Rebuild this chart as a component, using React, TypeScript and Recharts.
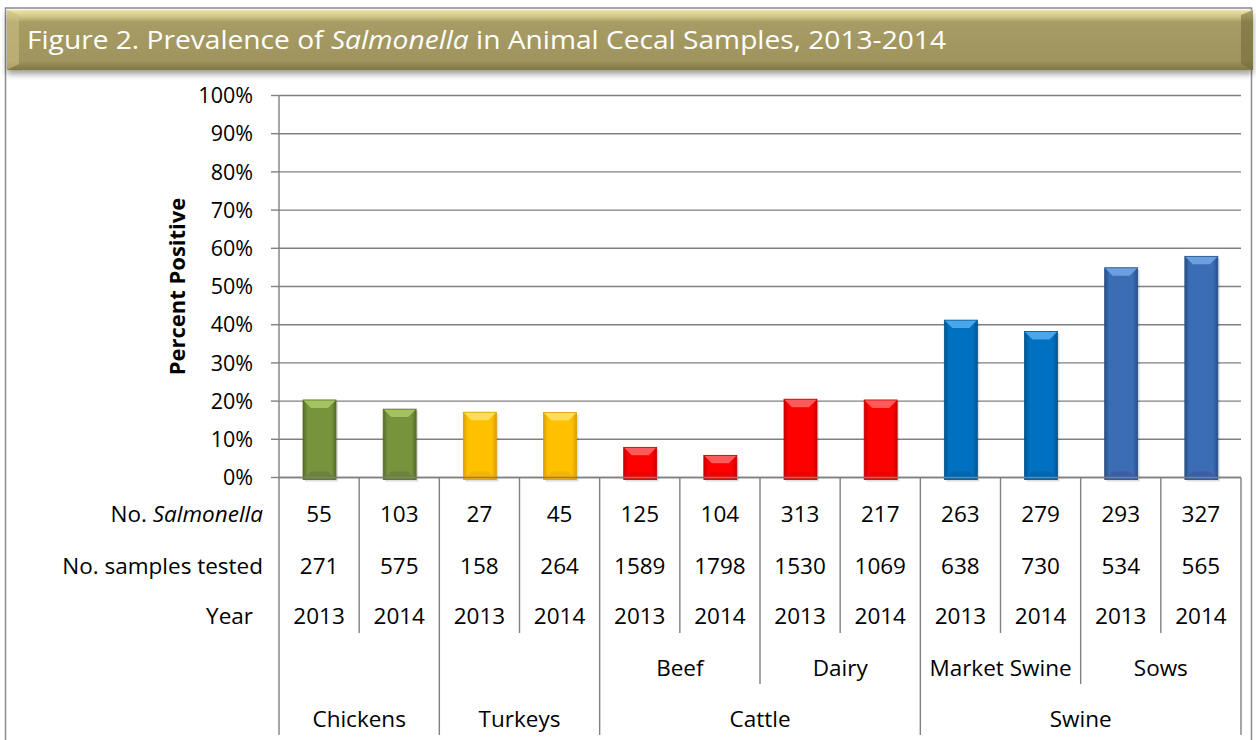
import React from 'react';
import { BarChart, Bar, XAxis, YAxis, CartesianGrid } from 'recharts';

const years = ['2013', '2014', '2013', '2014', '2013', '2014', '2013', '2014', '2013', '2014', '2013', '2014'];
const groups = ['Chickens', 'Chickens', 'Turkeys', 'Turkeys', 'Cattle', 'Cattle', 'Cattle', 'Cattle', 'Swine', 'Swine', 'Swine', 'Swine'];
const subgroups = ['', '', '', '', 'Beef', 'Beef', 'Dairy', 'Dairy', 'Market Swine', 'Market Swine', 'Sows', 'Sows'];
const salmonellaCounts = [55, 103, 27, 45, 125, 104, 313, 217, 263, 279, 293, 327];
const samplesTested = [271, 575, 158, 264, 1589, 1798, 1530, 1069, 638, 730, 534, 565];
const percentPositive = [20.3, 17.9, 17.1, 17.0, 7.9, 5.8, 20.5, 20.3, 41.2, 38.2, 54.9, 57.9];
const yTicks = [0, 10, 20, 30, 40, 50, 60, 70, 80, 90, 100];

const data = years.map((year, i) => ({ key: `c${i}`, year, percent: percentPositive[i] }));

const FONT = '"Open Sans", "Noto Sans", sans-serif';
const GRID = '#808080';
const PLOT_W = 962;
const HALF = PLOT_W / years.length / 2;

const BAR_COLORS: Record<string, { base: string; light: string; dark: string }> = {
  Chickens: { base: '#77933C', light: '#A3C362', dark: '#566D27' },
  Turkeys: { base: '#FFC000', light: '#FFDD5C', dark: '#D9A100' },
  Beef: { base: '#FF0000', light: '#FF5A5A', dark: '#C80000' },
  Dairy: { base: '#FF0000', light: '#FF5A5A', dark: '#C80000' },
  'Market Swine': { base: '#0070C0', light: '#4AA6EA', dark: '#00548F' },
  Sows: { base: '#3A6DB3', light: '#6B9FE0', dark: '#284F86' },
};

function colorFor(i: number) {
  return BAR_COLORS[subgroups[i] || groups[i]];
}

function BevelBar(props: any) {
  const { x, y, width, height, index } = props;
  if (!height || height <= 0) return null;
  const c = colorFor(index);
  const h = height + 2;
  const b = Math.min(8, h / 3);
  const id = `bar-grad-${index}`;
  return (
    <g>
      <defs>
        <linearGradient id={id} x1="0" x2="1" y1="0" y2="0">
          <stop offset="0" stopColor={c.dark} />
          <stop offset="0.14" stopColor={c.base} />
          <stop offset="0.86" stopColor={c.base} />
          <stop offset="1" stopColor={c.dark} />
        </linearGradient>
      </defs>
      <rect x={x + 2} y={y + 2} width={width} height={h} fill="#000" opacity={0.13} />
      <rect x={x} y={y} width={width} height={h} fill={`url(#${id})`} />
      <polygon
        points={`${x},${y} ${x + width},${y} ${x + width - b},${y + b} ${x + b},${y + b}`}
        fill={c.light}
      />
      <polygon
        points={`${x},${y + h} ${x + width},${y + h} ${x + width - b},${y + h - b} ${x + b},${y + h - b}`}
        fill={c.dark}
        opacity={0.35}
      />
      <rect x={x} y={y} width={width} height={h} fill="none" stroke={c.dark} strokeWidth={0.8} />
    </g>
  );
}

function lineDepth(i: number) {
  if (i === 0 || groups[i] !== groups[i - 1]) return 257.5;
  if (subgroups[i] !== subgroups[i - 1]) return 206.5;
  return 155.5;
}

function spanOf(list: string[], i: number) {
  let n = 0;
  while (i + n < list.length && list[i + n] === list[i]) n++;
  return n;
}

function TableTick(props: any) {
  const { x, y, index } = props;
  const left = x - HALF;
  const textProps = { fontFamily: FONT, fontSize: 22.5, fill: '#000', textAnchor: 'middle' as const };
  const firstSub = subgroups[index] && (index === 0 || subgroups[index] !== subgroups[index - 1]);
  const firstGroup = index === 0 || groups[index] !== groups[index - 1];
  return (
    <g>
      <line x1={left} x2={left} y1={y} y2={y + lineDepth(index)} stroke={GRID} strokeWidth={1.4} />
      {index === years.length - 1 && (
        <line x1={x + HALF} x2={x + HALF} y1={y} y2={y + 257.5} stroke={GRID} strokeWidth={1.4} />
      )}
      <text {...textProps} x={x} y={y + 44}>{salmonellaCounts[index]}</text>
      <text {...textProps} x={x} y={y + 96}>{samplesTested[index]}</text>
      <text {...textProps} x={x} y={y + 146.5}>{years[index]}</text>
      {firstSub && (
        <text {...textProps} x={left + spanOf(subgroups, index) * HALF} y={y + 198}>
          {subgroups[index]}
        </text>
      )}
      {firstGroup && (
        <text {...textProps} x={left + spanOf(groups, index) * HALF} y={y + 249}>
          {groups[index]}
        </text>
      )}
      {index === 0 && (
        <g>
          <text {...textProps} textAnchor="end" x={left - 16} y={y + 44}>
            No. <tspan fontStyle="italic">Salmonella</tspan>
          </text>
          <text {...textProps} textAnchor="end" x={left - 16} y={y + 96}>No. samples tested</text>
          <text {...textProps} textAnchor="end" x={left - 26} y={y + 146.5}>Year</text>
        </g>
      )}
    </g>
  );
}

function Frame() {
  return (
    <svg width={1256} height={740} style={{ position: 'absolute', left: 0, top: 0, pointerEvents: 'none' }}>
      <defs>
        <linearGradient id="title-grad" x1="0" x2="0" y1="0" y2="1">
          <stop offset="0" stopColor="#EEE4AA" />
          <stop offset="0.1" stopColor="#D5C989" />
          <stop offset="0.2" stopColor="#A89C66" />
          <stop offset="0.85" stopColor="#A0945E" />
          <stop offset="1" stopColor="#807640" />
        </linearGradient>
        <filter id="title-shadow" x="-5%" y="-20%" width="110%" height="160%">
          <feDropShadow dx="0" dy="4" stdDeviation="3" floodColor="#000" floodOpacity="0.4" />
        </filter>
      </defs>
      <rect x={5.5} y={8} width={1246} height={760} fill="none" stroke="#8c8c8c" strokeWidth={1.5} />
      <rect x={7} y={10} width={1246} height={60} fill="url(#title-grad)" filter="url(#title-shadow)" />
      <polygon points="7,10 19,15 19,64 7,70" fill="#C9BE80" opacity={0.6} />
      <polygon points="1253,10 1241,15 1241,64 1253,70" fill="#6F6636" opacity={0.55} />
      <text
        x={27}
        y={49}
        fontFamily={FONT}
        fontSize={26}
        fill="#fff"
        textLength={919}
        lengthAdjust="spacingAndGlyphs"
      >
        Figure 2. Prevalence of <tspan fontStyle="italic">Salmonella</tspan> in Animal Cecal Samples, 2013-2014
      </text>
    </svg>
  );
}

export default function App() {
  return (
    <div style={{ position: 'absolute', left: 0, top: 0, width: 1256, height: 740, background: '#fff', overflow: 'hidden' }}>
      <BarChart
        width={1256}
        height={740}
        data={data}
        margin={{ top: 95.5, right: 15, bottom: 4.5, left: 0 }}
        barSize={33}
      >
        <CartesianGrid vertical={false} stroke={GRID} strokeWidth={1.4} />
        <YAxis
          domain={[0, 100]}
          ticks={yTicks}
          interval={0}
          tickFormatter={(v) => `${v}%`}
          width={279}
          tickSize={8}
          tickMargin={18}
          axisLine={{ stroke: GRID, strokeWidth: 1.4 }}
          tickLine={{ stroke: GRID, strokeWidth: 1.4 }}
          tick={{ fill: '#000', fontSize: 21.5, fontFamily: FONT }}
          label={{
            value: 'Percent Positive',
            angle: -90,
            position: 'insideLeft',
            offset: 177,
            style: { textAnchor: 'middle', fontFamily: FONT, fontSize: 22, fontWeight: 700, fill: '#000' },
          }}
        />
        <XAxis
          dataKey="key"
          interval={0}
          height={258}
          tickLine={false}
          tickSize={0}
          tickMargin={0}
          axisLine={{ stroke: GRID, strokeWidth: 1.4 }}
          tick={<TableTick />}
        />
        <Bar dataKey="percent" shape={<BevelBar />} isAnimationActive={false} />
      </BarChart>
      <Frame />
    </div>
  );
}
